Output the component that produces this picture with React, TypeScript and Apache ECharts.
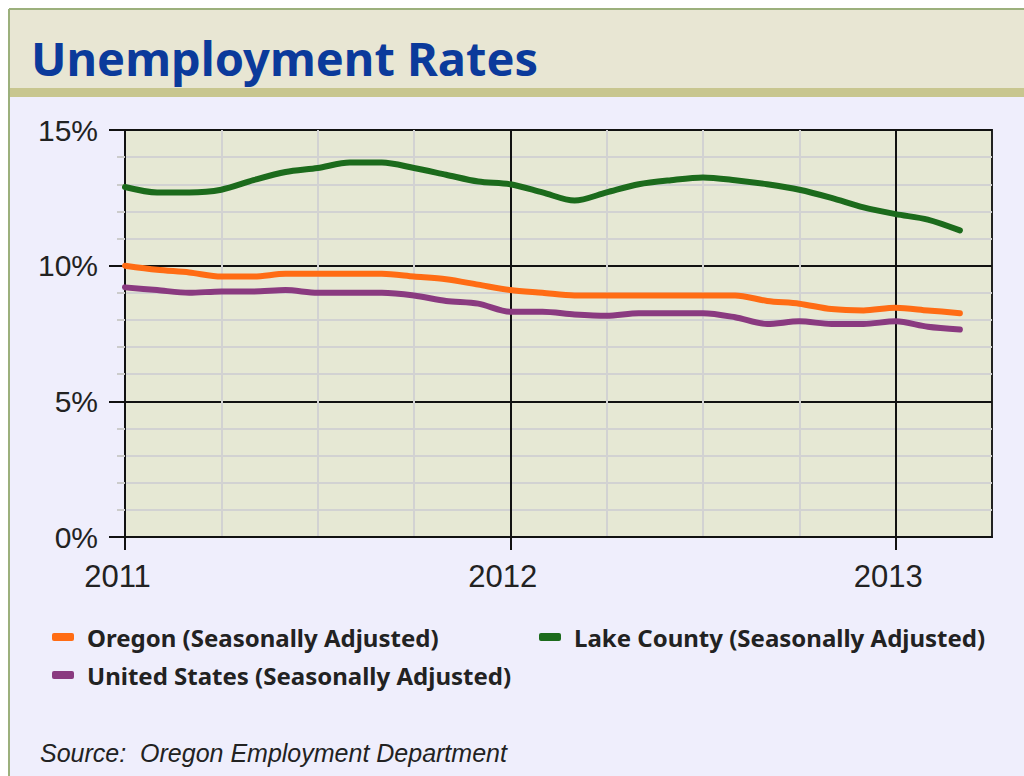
import React, { useEffect, useRef } from "react";
import * as echarts from "echarts";

const months = [
  "2011-01", "2011-02", "2011-03", "2011-04", "2011-05", "2011-06", "2011-07", "2011-08", "2011-09", "2011-10", "2011-11", "2011-12",
  "2012-01", "2012-02", "2012-03", "2012-04", "2012-05", "2012-06", "2012-07", "2012-08", "2012-09", "2012-10", "2012-11", "2012-12",
  "2013-01", "2013-02", "2013-03", "2013-04",
];

const oregon = [10.0, 9.85, 9.75, 9.6, 9.6, 9.7, 9.7, 9.7, 9.7, 9.6, 9.5, 9.3, 9.1, 9.0, 8.9, 8.9, 8.9, 8.9, 8.9, 8.9, 8.7, 8.6, 8.4, 8.35, 8.45, 8.35, 8.25];
const lakeCounty = [12.9, 12.7, 12.7, 12.8, 13.15, 13.45, 13.6, 13.8, 13.8, 13.6, 13.35, 13.1, 13.0, 12.7, 12.4, 12.7, 13.0, 13.15, 13.25, 13.15, 13.0, 12.8, 12.5, 12.15, 11.9, 11.7, 11.3];
const unitedStates = [9.2, 9.1, 9.0, 9.05, 9.05, 9.1, 9.0, 9.0, 9.0, 8.9, 8.7, 8.6, 8.3, 8.3, 8.2, 8.15, 8.25, 8.25, 8.25, 8.1, 7.85, 7.95, 7.85, 7.85, 7.95, 7.75, 7.65];

const seriesNames = [
  "Oregon (Seasonally Adjusted)",
  "Lake County (Seasonally Adjusted)",
  "United States (Seasonally Adjusted)",
];
const seriesColors = ["#ff6c14", "#1c6b1c", "#8a3a80"];

const titleText = "Unemployment Rates";
const sourceText = "Source:  Oregon Employment Department";

export default function App() {
  const ref = useRef<HTMLDivElement>(null);
  useEffect(() => {
    if (!ref.current) return;
    const chart = echarts.init(ref.current, null, { renderer: "svg" });
    const grey = "#d2d2d2";
    const legendText = {
      fontFamily: "Noto Sans",
      fontSize: 24,
      fontWeight: "bold",
      color: "#222",
      padding: [0, 0, 0, 8],
    };
    chart.setOption({
      animation: false,
      backgroundColor: "#efeefc",
      title: [
        {
          text: titleText,
          left: 31,
          top: 34,
          padding: 0,
          textStyle: { fontFamily: "Noto Sans", fontSize: 47, fontWeight: "bold", color: "#0b3a9b" },
        },
        {
          text: sourceText,
          left: 40,
          top: 740,
          padding: 0,
          textStyle: { fontFamily: "Liberation Sans", fontSize: 25, fontStyle: "italic", fontWeight: "normal", color: "#222" },
        },
      ],
      graphic: [
        { type: "rect", z: -10, shape: { x: 0, y: 0, width: 1024, height: 9 }, style: { fill: "#ffffff" }, silent: true },
        { type: "rect", z: -10, shape: { x: 0, y: 0, width: 8, height: 776 }, style: { fill: "#ffffff" }, silent: true },
        { type: "rect", z: -9, shape: { x: 9, y: 9, width: 1015, height: 80 }, style: { fill: "#e8e6d3" }, silent: true },
        { type: "rect", z: -9, shape: { x: 9, y: 88, width: 1015, height: 9 }, style: { fill: "#c8c68f" }, silent: true },
        { type: "line", z: -8, shape: { x1: 9, y1: 9, x2: 1024, y2: 9 }, style: { stroke: "#9cb07c", lineWidth: 2 }, silent: true },
        { type: "line", z: -8, shape: { x1: 9, y1: 9, x2: 9, y2: 776 }, style: { stroke: "#9cb07c", lineWidth: 2 }, silent: true },
      ],
      legend: [
        {
          left: 52,
          top: 625,
          padding: 0,
          orient: "vertical",
          itemGap: 14,
          itemWidth: 22,
          itemHeight: 8,
          icon: "roundRect",
          data: [seriesNames[0], seriesNames[2]],
          textStyle: legendText,
        },
        {
          left: 539,
          top: 625,
          padding: 0,
          orient: "vertical",
          itemWidth: 22,
          itemHeight: 8,
          icon: "roundRect",
          data: [seriesNames[1]],
          textStyle: legendText,
        },
      ],
      grid: {
        left: 125,
        top: 130,
        width: 867,
        height: 407,
        show: true,
        backgroundColor: "#e6e8d4",
        borderColor: "#222",
        borderWidth: 2,
      },
      xAxis: [
        {
          type: "category",
          data: months,
          boundaryGap: false,
          axisLine: { lineStyle: { color: "#111", width: 2 } },
          axisTick: { show: false },
          axisLabel: { show: false },
          splitLine: {
            show: true,
            interval: (i: number) => i % 3 === 0 && i < 27,
            lineStyle: { color: ["#111", grey, grey, grey], width: 2 },
          },
        },
        {
          type: "category",
          data: months,
          boundaryGap: false,
          position: "bottom",
          axisLine: { show: false },
          axisTick: {
            show: true,
            interval: (i: number) => i % 12 === 0,
            length: 13,
            lineStyle: { color: "#111", width: 2 },
          },
          axisLabel: {
            interval: (i: number) => i % 12 === 0,
            formatter: (v: string) => v.slice(0, 4),
            fontFamily: "Liberation Sans",
            fontSize: 31,
            color: "#222",
            margin: 24,
            padding: [0, 15, 0, 0],
          },
          splitLine: { show: false },
        },
      ],
      yAxis: [
        {
          type: "value",
          min: 0,
          max: 15,
          interval: 1,
          position: "left",
          axisLine: { show: true, lineStyle: { color: "#111", width: 2 } },
          axisTick: { show: true, length: 8, lineStyle: { color: "#cccccc", width: 2 } },
          axisLabel: { show: false },
          splitLine: { show: true, lineStyle: { color: ["#111", grey, grey, grey, grey], width: 2 } },
        },
        {
          type: "value",
          min: 0,
          max: 15,
          interval: 5,
          position: "left",
          axisLine: { show: false },
          axisTick: { show: true, length: 16, lineStyle: { color: "#111", width: 2 } },
          axisLabel: {
            formatter: "{value}%",
            fontFamily: "Liberation Sans",
            fontSize: 30,
            color: "#222",
            margin: 27,
          },
          splitLine: { show: false },
        },
      ],
      series: [
        { name: seriesNames[0], type: "line", data: oregon, color: seriesColors[0] },
        { name: seriesNames[1], type: "line", data: lakeCounty, color: seriesColors[1] },
        { name: seriesNames[2], type: "line", data: unitedStates, color: seriesColors[2] },
      ].map((s) => ({
        ...s,
        xAxisIndex: 0,
        yAxisIndex: 0,
        smooth: 0.3,
        showSymbol: false,
        symbol: "none",
        lineStyle: { width: 6, color: s.color, cap: "round" },
        itemStyle: { color: s.color },
      })),
    });
    return () => chart.dispose();
  }, []);
  return <div ref={ref} style={{ position: "fixed", left: 0, top: 0, width: 1024, height: 776 }} />;
}
